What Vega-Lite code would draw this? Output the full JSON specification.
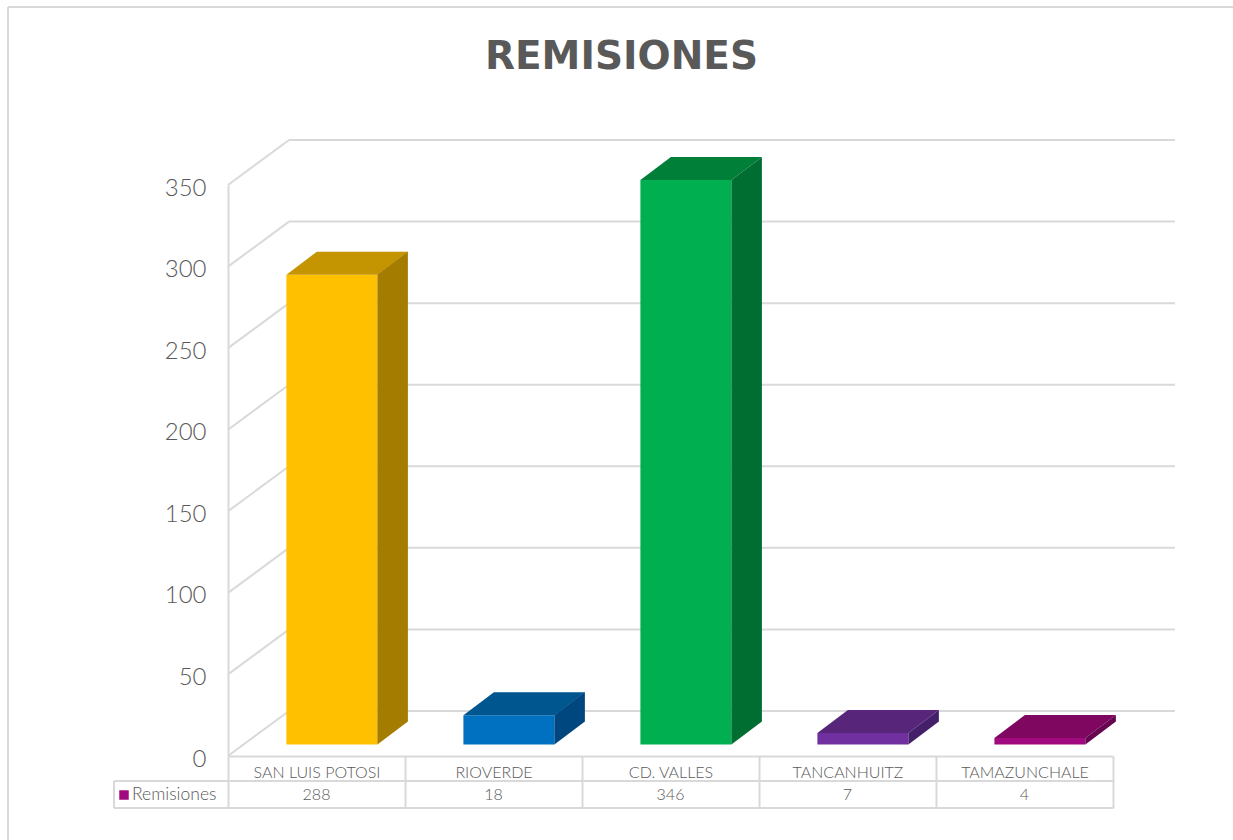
{
"$schema":"https://vega.github.io/schema/vega-lite/v6.json",
"width":885,"height":571,
"autosize":{"type":"none"},
"padding":{"left":228,"top":185,"right":120,"bottom":84},
"background":"white",
"title":{"text":"REMISIONES","font":"DejaVu Sans","fontSize":39,"fontWeight":"bold","color":"#595959","anchor":"middle","dx":-49,"offset":-102,"baseline":"alphabetic"},
"config":{"view":{"stroke":null},"font":"Lato"},
"datasets":{
"remisiones":[
{"categoria":"SAN LUIS POTOSI","remisiones":288},
{"categoria":"RIOVERDE","remisiones":18},
{"categoria":"CD. VALLES","remisiones":346},
{"categoria":"TANCANHUITZ","remisiones":7},
{"categoria":"TAMAZUNCHALE","remisiones":4}],
"ticks":[{"tick":0},{"tick":50},{"tick":100},{"tick":150},{"tick":200},{"tick":250},{"tick":300},{"tick":350}],
"serie":[{"serie":"Remisiones"}]
},
"layer":[
{"data":{"name":"serie"},"mark":{"type":"rule","stroke":"#D9D9D9","strokeWidth":2},
 "encoding":{"x":{"value":-220},"y":{"value":-178},"y2":{"value":655}}},
{"data":{"name":"serie"},"mark":{"type":"rule","stroke":"#D9D9D9","strokeWidth":2},
 "encoding":{"x":{"value":-220},"x2":{"value":1005},"y":{"value":-178}}},
{"data":{"name":"ticks"},"mark":{"type":"rule","stroke":"#D9D9D9","strokeWidth":2,"yOffset":-45},
 "encoding":{"x":{"value":61},"x2":{"value":947},"y":{"field":"tick","type":"quantitative","scale":{"domain":[0,350],"nice":false},
   "axis":{"values":[0,50,100,150,200,250,300,350],"title":null,"grid":false,"ticks":false,"domain":true,"domainColor":"#D9D9D9","domainWidth":2,"labelFont":"Lato","labelFontWeight":300,"labelFontSize":24,"labelColor":"#595959","labelPadding":22,"labelOffset":3}}}},
{"data":{"name":"ticks"},"mark":{"type":"point","shape":"M0,0L61,-45","filled":false,"stroke":"#D9D9D9","strokeWidth":2,"opacity":1,"size":4},
 "encoding":{"x":{"value":0},"y":{"field":"tick","type":"quantitative"}}},
{"data":{"name":"remisiones"},"mark":{"type":"bar","size":91,"xOffset":15.4,"yOffset":-11.5},
 "encoding":{
  "x":{"field":"categoria","type":"nominal","sort":null,"scale":{"type":"band","paddingInner":0,"paddingOuter":0},
   "axis":{"title":null,"orient":"bottom","tickBand":"extent","ticks":true,"tickSize":52,"tickColor":"#D9D9D9","tickWidth":2,"domain":true,"domainColor":"#D9D9D9","domainWidth":2,"labelAngle":0,"labelFont":"Lato","labelFontWeight":300,"labelFontSize":16,"labelColor":"#595959","labelPadding":-36,"labelBaseline":"middle"}},
  "y":{"field":"remisiones","type":"quantitative"},
  "color":{"field":"categoria","type":"nominal","sort":null,"legend":null,"scale":{"domain":["SAN LUIS POTOSI","RIOVERDE","CD. VALLES","TANCANHUITZ","TAMAZUNCHALE"],"range":["#FFC000","#0070C0","#00B050","#7030A0","#A10A7E"]}}}},
{"data":{"name":"remisiones"},"mark":{"type":"point","shape":"M-45.5,0L45.5,0L76,-23L-15,-23Z","filled":true,"opacity":1,"size":4,"xOffset":15.4,"yOffset":-11.5},
 "encoding":{
  "x":{"field":"categoria","type":"nominal","sort":null},
  "y":{"field":"remisiones","type":"quantitative"},
  "color":{"field":"categoria","type":"nominal","sort":null,"legend":null,"scale":{"domain":["SAN LUIS POTOSI","RIOVERDE","CD. VALLES","TANCANHUITZ","TAMAZUNCHALE"],"range":["#C49500","#005790","#007F39","#572579","#7F0760"]}}}},
{"data":{"name":"remisiones"},"mark":{"type":"point","filled":true,"opacity":1,"size":4,"xOffset":60.9,"yOffset":-11.5},
 "encoding":{
  "x":{"field":"categoria","type":"nominal","sort":null},
  "y":{"datum":0},
  "shape":{"field":"categoria","type":"nominal","sort":null,"legend":null,"scale":{"domain":["SAN LUIS POTOSI","RIOVERDE","CD. VALLES","TANCANHUITZ","TAMAZUNCHALE"],"range":["M0,0L30.5,-23L30.5,-493L0,-470Z","M0,0L30.5,-23L30.5,-52.4L0,-29.4Z","M0,0L30.5,-23L30.5,-587.6L0,-564.6Z","M0,0L30.5,-23L30.5,-34.4L0,-11.4Z","M0,0L30.5,-23L30.5,-29.5L0,-6.5Z"]}},
  "color":{"field":"categoria","type":"nominal","sort":null,"legend":null,"scale":{"domain":["SAN LUIS POTOSI","RIOVERDE","CD. VALLES","TANCANHUITZ","TAMAZUNCHALE"],"range":["#A47C00","#00477F","#006D31","#45206A","#660550"]}}}},
{"data":{"name":"serie"},"mark":{"type":"rule","stroke":"#D9D9D9","strokeWidth":2,"yOffset":25},
 "encoding":{"x":{"value":-114},"x2":{"value":885},"y":{"datum":0}}},
{"data":{"name":"serie"},"mark":{"type":"rule","stroke":"#D9D9D9","strokeWidth":2,"yOffset":52},
 "encoding":{"x":{"value":-114},"x2":{"value":885},"y":{"datum":0}}},
{"data":{"name":"serie"},"mark":{"type":"rule","stroke":"#D9D9D9","strokeWidth":2},
 "encoding":{"x":{"value":-114},"y":{"value":596},"y2":{"value":623}}},
{"data":{"name":"serie"},"mark":{"type":"point","shape":"square","filled":true,"opacity":1,"size":90,"color":"#A0097F","yOffset":39},
 "encoding":{"x":{"value":-104},"y":{"datum":0}}},
{"data":{"name":"serie"},"mark":{"type":"text","align":"left","baseline":"middle","font":"Lato","fontWeight":300,"fontSize":17.5,"color":"#595959","yOffset":39},
 "encoding":{"x":{"value":-96},"y":{"datum":0},"text":{"field":"serie","type":"nominal"}}},
{"data":{"name":"remisiones"},"mark":{"type":"text","baseline":"middle","font":"Lato","fontWeight":300,"fontSize":16,"color":"#595959","yOffset":39},
 "encoding":{"x":{"field":"categoria","type":"nominal","sort":null},"y":{"datum":0},"text":{"field":"remisiones","type":"quantitative"}}}
],
"resolve":{"scale":{"color":"independent","shape":"independent"}}
}
